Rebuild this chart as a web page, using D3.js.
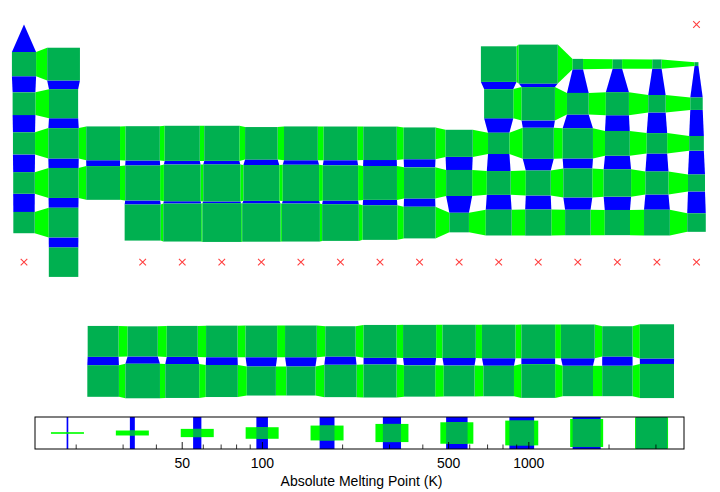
<!DOCTYPE html>
<html>
<head>
<meta charset="utf-8">
<script src="https://cdn.jsdelivr.net/npm/d3@7"></script>
<style>
  html, body { margin: 0; padding: 0; background: #fff; }
  svg { display: block; }
  text { font-family: "Liberation Sans", Arial, Helvetica, sans-serif; }
</style>
</head>
<body>
<svg id="chart" width="720" height="492"></svg>
<script>
// ---- data: element symbols (Z = 1..118) and melting points in K (null = missing) ----
const symbols = ["H","He","Li","Be","B","C","N","O","F","Ne","Na","Mg","Al","Si","P","S","Cl","Ar",
  "K","Ca","Sc","Ti","V","Cr","Mn","Fe","Co","Ni","Cu","Zn","Ga","Ge","As","Se","Br","Kr",
  "Rb","Sr","Y","Zr","Nb","Mo","Tc","Ru","Rh","Pd","Ag","Cd","In","Sn","Sb","Te","I","Xe",
  "Cs","Ba","La","Ce","Pr","Nd","Pm","Sm","Eu","Gd","Tb","Dy","Ho","Er","Tm","Yb","Lu",
  "Hf","Ta","W","Re","Os","Ir","Pt","Au","Hg","Tl","Pb","Bi","Po","At","Rn",
  "Fr","Ra","Ac","Th","Pa","U","Np","Pu","Am","Cm","Bk","Cf","Es","Fm","Md","No","Lr",
  "Rf","Db","Sg","Bh","Hs","Mt","Ds","Rg","Cn","Nh","Fl","Mc","Lv","Ts","Og"];
const meltingPoints = [14.01,null,453.69,1560,2349,3823,63.05,54.8,53.53,24.56,
  370.87,923,933.47,1687,317.3,388.36,171.6,83.8,
  336.53,1115,1814,1941,2183,2180,1519,1811,1768,1728,1357.77,692.68,302.91,1211.4,1090,494,265.8,115.79,
  312.46,1050,1799,2128,2750,2896,2430,2607,2237,1828.05,1234.93,594.22,429.75,505.08,903.78,722.66,386.85,161.4,
  301.59,1000,1193,1068,1208,1297,1315,1345,1099,1585,1629,1680,1734,1802,1818,1097,1925,
  2506,3290,3695,3459,3306,2739,2041.4,1337.33,234.32,577,600.61,544.4,527,575,202,
  null,973,1323,2023,1841,1405.3,917,912.5,1449,1613,1259,1173,1133,1800,1100,1100,1900,
  null,null,null,null,null,null,null,null,null,null,null,null,null,null,null];
// legend tick values (K)
const majorTicks = [50, 100, 500, 1000];
const minorTicks = [20, 30, 40, 60, 70, 80, 90, 200, 300, 400, 600, 700, 800, 900, 2000, 3000];
const legendCount = 10;
const axisTitle = "Absolute Melting Point (K)";

// ---- periodic-table cell (group column, table row) from atomic number ----
function cellOf(z) {
  if (z === 1) return [1, 1];
  if (z === 2) return [18, 1];
  const starts = [[3, 2], [11, 3], [19, 4], [37, 5], [55, 6], [87, 7]];
  let p = 0;
  for (let i = 0; i < starts.length; i++) if (z >= starts[i][0]) p = i;
  const [s, period] = starts[p];
  const k = z - s;
  if (period <= 3) return k < 2 ? [k + 1, period] : [k + 11, period];
  if (period <= 5) return [k + 1, period];
  if (k < 2) return [k + 1, period];
  if (k < 17) return [k + 1, period + 3];   // La..Lu / Ac..Lr row
  return [k - 13, period];
}

const elements = symbols.map((sym, i) => {
  const [col, row] = cellOf(i + 1);
  return { sym, mp: meltingPoints[i], col, row };
});
const present = elements.filter(d => d.mp != null);
const missing = elements.filter(d => d.mp == null);

const mpMin = d3.min(present, d => d.mp);
const mpMax = d3.max(present, d => d.mp);

const svg = d3.select("#chart");
const x = d3.scaleLinear().domain([1, 18]).range([24, 696.5]);
const y = d3.scaleLinear().domain([1, 10]).range([24.5, 381]);
const size = d3.scaleLog().domain([mpMin, mpMax]).range([0, 39]);

const DARK = "#00b050", LIGHT = "#00ff00", BLUE = "#0000ff";

const key = (c, r) => c + "," + r;
const byCell = new Map(present.map(d => [key(d.col, d.row), d]));

const hLinks = [], vLinks = [];
present.forEach(d => {
  const right = byCell.get(key(d.col + 1, d.row));
  if (right) hLinks.push([d, right]);
  const below = byCell.get(key(d.col, d.row + 1));
  if (below) vLinks.push([d, below]);
});

const g = svg.append("g");
g.selectAll("path.h").data(hLinks).join("path")
  .attr("fill", LIGHT)
  .attr("d", ([a, b]) => {
    const sa = size(a.mp) / 2, sb = size(b.mp) / 2, cy = y(a.row);
    const xa = x(a.col) + sa, xb = x(b.col) - sb;
    return `M${xa},${cy - sa}L${xb},${cy - sb}L${xb},${cy + sb}L${xa},${cy + sa}Z`;
  });
g.selectAll("path.v").data(vLinks).join("path")
  .attr("fill", BLUE)
  .attr("d", ([a, b]) => {
    const sa = size(a.mp) / 2, sb = size(b.mp) / 2, cx = x(a.col);
    const ya = y(a.row) + sa, yb = y(b.row) - sb;
    return `M${cx - sa},${ya}L${cx + sa},${ya}L${cx + sb},${yb}L${cx - sb},${yb}Z`;
  });
g.selectAll("rect.cell").data(present).join("rect")
  .attr("fill", DARK)
  .attr("x", d => x(d.col) - size(d.mp) / 2)
  .attr("y", d => y(d.row) - size(d.mp) / 2)
  .attr("width", d => size(d.mp))
  .attr("height", d => size(d.mp));

// missing values: red crosses
const cr = 3.3;
g.selectAll("path.miss").data(missing).join("path")
  .attr("stroke", "#ff4040").attr("stroke-width", 1.1).attr("fill", "none")
  .attr("d", d => {
    const cx = x(d.col), cy = y(d.row);
    return `M${cx - cr},${cy - cr}L${cx + cr},${cy + cr}M${cx - cr},${cy + cr}L${cx + cr},${cy - cr}`;
  });

// ---- legend ----
const L = { x0: 35, x1: 684, y0: 417, y1: 449 };
const xL = d3.scaleLog().domain([mpMin, mpMax]).range([L.x0, L.x1]);
const sizeL = d3.scaleLog().domain([mpMin, mpMax]).range([0, 33]);
const legendValues = d3.range(legendCount).map(i => xL.invert(L.x0 + (L.x1 - L.x0) * (i + 0.5) / legendCount));
const cyL = (L.y0 + L.y1) / 2;
const lg = svg.append("g");
svg.append("clipPath").attr("id", "lclip").append("rect")
  .attr("x", L.x0).attr("y", L.y0).attr("width", L.x1 - L.x0).attr("height", L.y1 - L.y0);
const items = lg.append("g").attr("clip-path", "url(#lclip)")
  .selectAll("g").data(legendValues).join("g");
items.append("rect").attr("fill", BLUE)
  .attr("x", v => xL(v) - Math.max(sizeL(v), 1) / 2).attr("width", v => Math.max(sizeL(v), 1))
  .attr("y", L.y0).attr("height", L.y1 - L.y0);
items.append("rect").attr("fill", LIGHT)
  .attr("x", v => xL(v) - 16.5).attr("width", 33)
  .attr("y", v => cyL - Math.max(sizeL(v), 1) / 2).attr("height", v => Math.max(sizeL(v), 1));
items.append("rect").attr("fill", DARK)
  .attr("x", v => xL(v) - sizeL(v) / 2).attr("width", v => sizeL(v))
  .attr("y", v => cyL - sizeL(v) / 2).attr("height", v => sizeL(v));

lg.selectAll("line.minor").data(minorTicks).join("line")
  .attr("x1", v => xL(v)).attr("x2", v => xL(v))
  .attr("y1", L.y1).attr("y2", L.y1 - 4.5)
  .attr("stroke", "#000").attr("stroke-width", 0.8);
lg.selectAll("line.major").data(majorTicks).join("line")
  .attr("x1", v => xL(v)).attr("x2", v => xL(v))
  .attr("y1", L.y1).attr("y2", L.y1 - 7)
  .attr("stroke", "#000").attr("stroke-width", 0.9);
lg.append("rect").attr("x", L.x0).attr("y", L.y0)
  .attr("width", L.x1 - L.x0).attr("height", L.y1 - L.y0)
  .attr("fill", "none").attr("stroke", "#000").attr("stroke-width", 1);
lg.selectAll("text.tick").data(majorTicks).join("text")
  .attr("x", v => xL(v)).attr("y", 467.5)
  .attr("text-anchor", "middle").attr("font-size", 14).attr("fill", "#000")
  .text(v => v);
lg.append("text").attr("x", (L.x0 + L.x1) / 2 + 2).attr("y", 485.5)
  .attr("text-anchor", "middle").attr("font-size", 14).attr("fill", "#000")
  .text(axisTitle);
</script>
</body>
</html>
